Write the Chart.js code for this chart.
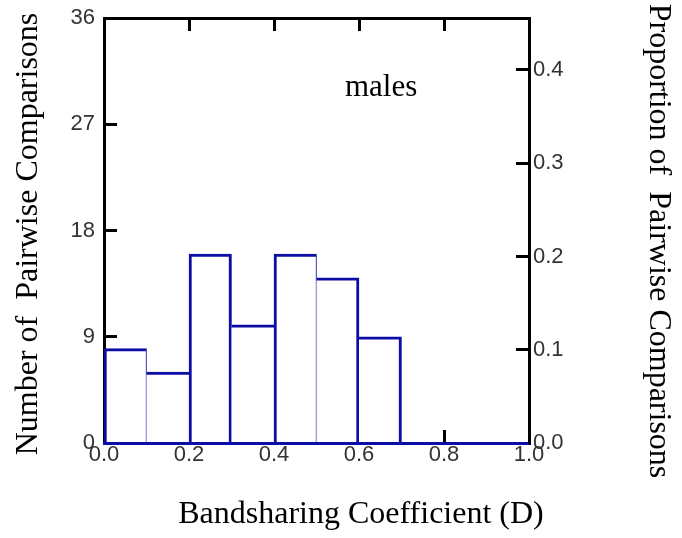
<!DOCTYPE html>
<html>
<head>
<meta charset="utf-8">
<script src="https://cdn.jsdelivr.net/npm/chart.js@4/dist/chart.umd.min.js"></script>
<style>
  body { margin: 0; background: #fff; }
  canvas { display: block; }
</style>
</head>
<body>
<canvas id="histChart" width="682" height="538"></canvas>
<script>
// bandsharing histogram, males
const binLow = [0.0, 0.1, 0.2, 0.3, 0.4, 0.5, 0.6, 0.7, 0.8, 0.9];
const binWidth = 0.1;
const counts = [8, 6, 16, 10, 16, 14, 9, 0, 0, 0];
const total = counts.reduce((a, b) => a + b, 0);

const countTicks = [0, 9, 18, 27, 36];
const proportionTicks = [0.0, 0.1, 0.2, 0.3, 0.4];
const dTicks = [0.0, 0.2, 0.4, 0.6, 0.8, 1.0];

const panelLabel = "males";
const xTitle = "Bandsharing Coefficient (D)";
const yTitle = "Number of  Pairwise Comparisons";
const y2Title = "Proportion of  Pairwise Comparisons";

const BLUE = "#0c0ca6";
const tickFont = { family: "'Liberation Sans', Arial, sans-serif", size: 22 };
const serifFamily = "'Liberation Serif', 'Times New Roman', serif";

// only the taller of two neighbouring bins draws the shared edge
const edges = counts.map((c, i) => {
  if (c === 0) return { top: 0, left: 0, right: 0, bottom: 0 };
  const prev = i > 0 ? counts[i - 1] : 0;
  const next = i < counts.length - 1 ? counts[i + 1] : 0;
  return {
    top: 3,
    bottom: 0,
    left: c >= prev ? 3 : 0,
    right: c > next ? 3 : 0,
  };
});
// hairline edges at 0.1 and 0.5
edges[0].right = 1;
edges[4].right = 1;

const fixTicks = (values) => (scale) => {
  scale.ticks = values.map((v) => ({ value: v }));
};

// fixed axis boxes so the plot frame sits where it should
const fitWidth = (w) => (s) => {
  s.width = w;
  s.paddingTop = 0;
  s.paddingBottom = 0;
};
const fitHeight = (h) => (s) => {
  s.height = h;
  s.paddingLeft = 0;
  s.paddingRight = 0;
};

const textPlugin = {
  id: "textLabels",
  afterDraw(chart) {
    const ctx = chart.ctx;
    ctx.save();
    ctx.fillStyle = "#000";
    ctx.textBaseline = "alphabetic";

    ctx.font = "31px " + serifFamily;
    ctx.textAlign = "left";
    ctx.fillText(panelLabel, 345, 96);

    ctx.font = "32px " + serifFamily;
    ctx.textAlign = "center";
    ctx.fillText(xTitle, 361, 523);

    ctx.save();
    ctx.translate(37, 234);
    ctx.rotate(-Math.PI / 2);
    ctx.fillText(yTitle, 0, 0);
    ctx.restore();

    ctx.save();
    ctx.translate(650, 241);
    ctx.rotate(Math.PI / 2);
    ctx.fillText(y2Title, 0, 0);
    ctx.restore();

    ctx.restore();
  },
};

const inwardGrid = {
  drawOnChartArea: false,
  tickLength: -13,
  tickWidth: 3,
  tickColor: "#000",
};

new Chart(document.getElementById("histChart"), {
  type: "bar",
  data: {
    datasets: [
      {
        data: binLow.map((lo, i) => ({ x: lo + binWidth / 2, y: counts[i] })),
        backgroundColor: "#fff",
        borderColor: BLUE,
        borderWidth: edges,
        borderSkipped: false,
        barPercentage: 1,
        categoryPercentage: 1,
        xAxisID: "x",
        yAxisID: "y",
      },
    ],
  },
  options: {
    responsive: false,
    animation: false,
    devicePixelRatio: 1,
    layout: { padding: 0 },
    plugins: {
      legend: { display: false },
      tooltip: { enabled: false },
    },
    scales: {
      x: {
        type: "linear",
        position: "bottom",
        min: 0,
        max: 1,
        offset: false,
        afterBuildTicks: fixTicks(dTicks),
        afterFit: fitHeight(95),
        grid: { ...inwardGrid, offset: false },
        border: { color: BLUE, width: 3, z: 1 },
        ticks: {
          font: tickFont,
          color: "#333",
          padding: 12,
          maxRotation: 0,
          autoSkip: false,
          callback: (v) => Number(v).toFixed(1),
        },
      },
      x2: {
        type: "linear",
        position: "top",
        min: 0,
        max: 1,
        offset: false,
        afterBuildTicks: fixTicks(dTicks),
        afterFit: fitHeight(18),
        grid: { ...inwardGrid, offset: false },
        border: { color: "#000", width: 3, z: 1 },
        ticks: { display: false },
      },
      y: {
        position: "left",
        min: 0,
        max: 36,
        afterBuildTicks: fixTicks(countTicks),
        afterFit: fitWidth(104),
        grid: inwardGrid,
        border: { color: "#000", width: 3 },
        ticks: { font: tickFont, color: "#333", padding: 22 },
      },
      y2: {
        position: "right",
        min: 0,
        max: 36 / total,
        afterBuildTicks: fixTicks(proportionTicks),
        afterFit: fitWidth(153),
        grid: inwardGrid,
        border: { color: "#000", width: 3, z: 1 },
        ticks: {
          font: tickFont,
          color: "#333",
          padding: 17,
          callback: (v) => Number(v).toFixed(1),
        },
      },
    },
  },
  plugins: [textPlugin],
});
</script>
</body>
</html>
